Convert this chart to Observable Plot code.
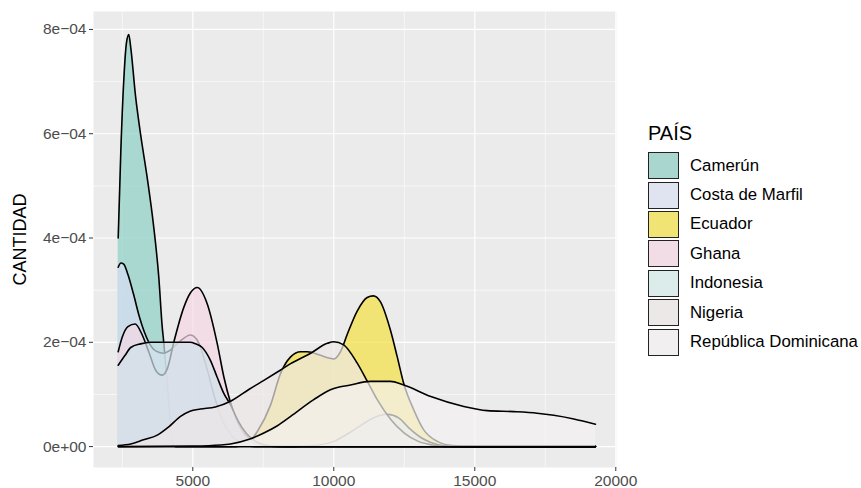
<!DOCTYPE html>
<html><head><meta charset="utf-8">
<script src="https://cdn.jsdelivr.net/npm/d3@7"></script>
<script src="https://cdn.jsdelivr.net/npm/@observablehq/plot@0.6"></script>
<style>
body{margin:0;background:#fff;font-family:"Liberation Sans",Arial,sans-serif;}
#wrap{position:relative;width:861px;height:488px;overflow:hidden;}
#chart{position:absolute;left:0;top:0;}
#legend{position:absolute;left:648px;top:119px;}
#legend .title{font-size:20px;color:#000;height:32px;line-height:28px;}
#legend .row{display:flex;align-items:center;height:29.4px;}
#legend .key{width:29px;height:25px;border:1.6px solid #222;box-sizing:content-box;}
#legend .lab{font-size:16.8px;color:#000;margin-left:11px;white-space:nowrap;}
</style></head><body>
<div id="wrap"><div id="chart"></div><div id="legend"></div></div>
<script>
const paises = ["Camerún","Costa de Marfil","Ecuador","Ghana","Indonesia","Nigeria","República Dominicana"];
const rellenos = ["#8bd0c3","#d8def4","#f5e141","#f5d7e4","#d0e3ea","#eee7e7","#f4f1f1"];
const clavesLeyenda = ["#a9d6ce","#e0e4f0","#f2e474","#f2dde6","#dcecea","#ede8e8","#f1efef"];

// density values in units of 1e-4
const camerunX = [2355,2450,2557,2650,2730,2800,2968,3145,3383,3617,3794,3915,3970,4040,4150,4270,4400,19280];
const camerunY = [4.0,5.7,7.07,7.75,7.9,7.65,6.73,6.0,5.16,4.2,3.25,2.3,2.0,1.55,0.83,0.1,0,0];
const costaX = [2355,2450,2550,2700,2900,3100,3266,3440,3700,3970,4200,4500,4920,5200,5500,5800,6100,6400,6800,7200,19280];
const costaY = [3.44,3.52,3.5,3.3,2.92,2.5,2.22,2.0,1.83,1.79,1.85,2.0,2.14,2.0,1.5,0.9,0.45,0.2,0.05,0,0];
const ecuadorX = [2355,6500,6900,7300,7760,8110,8470,8830,9060,9530,9820,10000,10240,10475,10830,11184,11400,11650,12010,12250,12480,12840,13190,13670,14200,15000,19280];
const ecuadorY = [0,0,0.05,0.3,0.8,1.4,1.72,1.82,1.82,1.75,1.7,1.68,1.82,2.15,2.6,2.86,2.89,2.78,2.23,1.72,1.21,0.7,0.32,0.1,0.02,0,0];
const ghanaX = [2355,2500,2700,2957,3200,3450,3700,3915,4100,4326,4681,4918,5160,5510,5865,6100,6340,6700,7050,7500,8000,19280];
const ghanaY = [1.82,2.1,2.3,2.35,2.15,1.8,1.45,1.37,1.5,2.0,2.67,2.95,3.05,2.74,1.98,1.34,0.84,0.35,0.12,0.02,0,0];
const indonesiaX = [2355,2600,2800,3150,3500,4000,4500,4900,5100,5335,5628,5865,6100,6340,6600,6900,7300,7800,8500,9300,10000,10800,11400,11900,12300,12720,13100,13440,14000,14500,19280];
const indonesiaY = [1.56,1.75,1.9,1.97,2.0,2.0,2.0,2.0,1.97,1.9,1.65,1.33,1.02,0.8,0.5,0.25,0.08,0.01,0,0.02,0.1,0.35,0.55,0.62,0.55,0.33,0.17,0.08,0.01,0,0];
const nigeriaX = [2355,2800,3250,3740,4150,4564,4900,5273,5800,6340,7000,7520,8000,8470,9180,9770,10000,10350,10830,11190,11540,12020,12500,13000,13500,14000,19280];
const nigeriaY = [0.02,0.05,0.13,0.22,0.38,0.58,0.68,0.72,0.76,0.87,1.1,1.27,1.43,1.59,1.79,1.98,2.01,1.95,1.6,1.25,0.9,0.52,0.26,0.1,0.03,0,0];
const dominicanaX = [2355,5000,6000,6340,7000,7520,8000,8470,9290,9880,10590,11300,12010,12480,13440,14610,15440,16380,17210,17800,18510,19280];
const dominicanaY = [0,0.01,0.03,0.05,0.14,0.26,0.4,0.58,0.9,1.09,1.18,1.25,1.25,1.18,0.96,0.77,0.69,0.67,0.64,0.6,0.53,0.43];

const yMajor = [0, 2e-4, 4e-4, 6e-4, 8e-4];
const yMinor = [1e-4, 3e-4, 5e-4, 7e-4];
const xMajor = [5000, 10000, 15000, 20000];
const xMinor = [2500, 7500, 12500, 17500];

const series = [
  [camerunX, camerunY], [costaX, costaY], [ecuadorX, ecuadorY], [ghanaX, ghanaY],
  [indonesiaX, indonesiaY], [nigeriaX, nigeriaY], [dominicanaX, dominicanaY]
];
const datos = series.map(([xs, ys], i) => xs.map((x, j) => ({pais: paises[i], x, y: ys[j] * 1e-4})));

const yFmt = d => d === 0 ? "0e+00" : Math.round(d * 1e4) + "e\u221204";

const marks = [
  Plot.frame({fill: "#ebebeb", stroke: "none"}),
  Plot.ruleY(yMinor, {stroke: "#fff", strokeWidth: 0.6}),
  Plot.ruleX(xMinor, {stroke: "#fff", strokeWidth: 0.6}),
  Plot.ruleY(yMajor, {stroke: "#fff", strokeWidth: 1.2}),
  Plot.ruleX(xMajor, {stroke: "#fff", strokeWidth: 1.2})
];
datos.forEach((d, i) => {
  marks.push(Plot.areaY(d, {x: "x", y: "y", fill: rellenos[i], fillOpacity: 0.7, curve: "monotone-x"}));
  marks.push(Plot.line(d, {x: "x", y: "y", stroke: "#000", strokeWidth: 1.6, curve: "monotone-x"}));
});
marks.push(
  Plot.axisY(yMajor, {tickFormat: yFmt, tickSize: 4, tickPadding: 3, fontSize: 15.5, fill: "#4d4d4d", stroke: "#333", label: null}),
  Plot.axisX(xMajor, {tickFormat: d => String(d), tickSize: 4, tickPadding: 3, fontSize: 15.5, fill: "#4d4d4d", stroke: "#333", label: null}),
  Plot.text(["CANTIDAD"], {frameAnchor: "left", dx: -73, rotate: -90, textAnchor: "middle", fontSize: 18, fill: "#000"})
);

const chart = Plot.plot({
  width: 620, height: 488,
  marginLeft: 93, marginRight: 4, marginTop: 11, marginBottom: 21,
  style: {fontFamily: "'Liberation Sans', Arial, sans-serif", background: "transparent", overflow: "visible"},
  x: {domain: [1479, 20025]},
  y: {domain: [-0.401e-4, 8.344e-4]},
  marks
});
document.getElementById("chart").appendChild(chart);

const leg = document.getElementById("legend");
const t = document.createElement("div"); t.className = "title"; t.textContent = "PAÍS"; leg.appendChild(t);
paises.forEach((p, i) => {
  const r = document.createElement("div"); r.className = "row";
  const k = document.createElement("div"); k.className = "key"; k.style.background = clavesLeyenda[i];
  const l = document.createElement("span"); l.className = "lab"; l.textContent = p;
  r.appendChild(k); r.appendChild(l); leg.appendChild(r);
});
</script>
</body></html>
